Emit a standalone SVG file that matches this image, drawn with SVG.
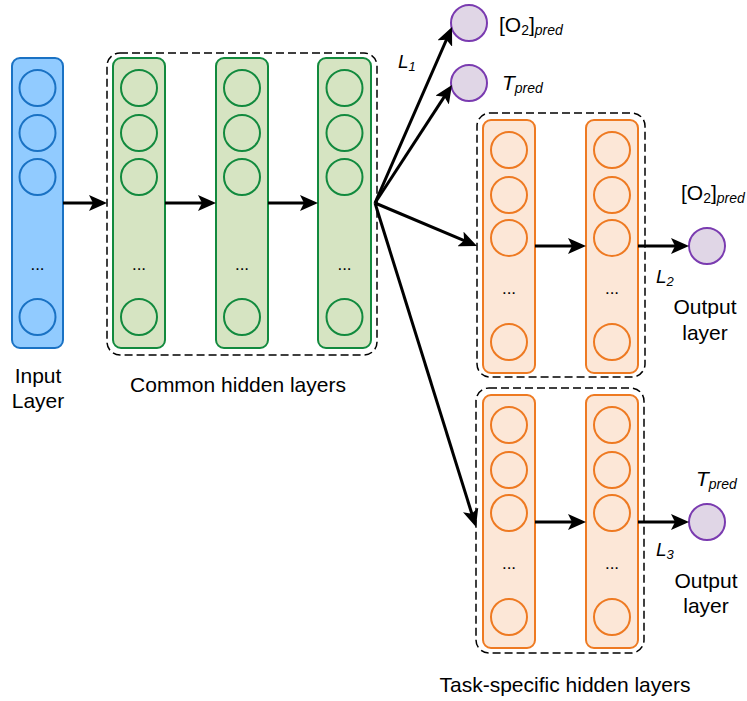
<svg xmlns="http://www.w3.org/2000/svg" width="747" height="701" viewBox="0 0 747 701">
  <style>
    text { font-family: "Liberation Sans", Arial, sans-serif; fill: #000; }
    .lbl { font-size: 21px; }
    .mid { text-anchor: middle; }
    .sub { font-size: 14px; }
    .it { font-style: italic; }
    .loss { font-size: 19px; font-style: italic; }
    .loss-sub { font-size: 13px; }
    .dots { font-size: 17px; text-anchor: middle; }
    .group { fill: none; stroke: #000; stroke-width: 1.5; stroke-dasharray: 8 4; }
    .in-col { fill: #91cbff; stroke: #1a72c4; stroke-width: 2; }
    .in-n { fill: none; stroke: #1a72c4; stroke-width: 2; }
    .cm-col { fill: #d6e4c2; stroke: #128a3e; stroke-width: 2; }
    .cm-n { fill: none; stroke: #128a3e; stroke-width: 2; }
    .ts-col { fill: #fce7d7; stroke: #ee7a22; stroke-width: 2; }
    .ts-n { fill: none; stroke: #ee7a22; stroke-width: 2; }
    .out-n { fill: #e0d6e6; stroke: #7a3bb0; stroke-width: 2; }
    .edge { stroke: #000; stroke-width: 3; fill: none; marker-end: url(#head); }
  </style>
  <defs>
    <marker id="head" markerUnits="userSpaceOnUse" markerWidth="18" markerHeight="16" refX="8" refY="8" orient="auto">
      <path d="M0,0 L18,8 L0,16 L4,8 z" fill="#000"/>
    </marker>
    <g id="col4">
      <circle cx="0" cy="0" r="18"/>
      <circle cx="0" cy="45" r="18"/>
      <circle cx="0" cy="89" r="18"/>
      <circle cx="0" cy="229" r="18"/>
    </g>
    <g id="col4t">
      <circle cx="0" cy="0" r="18"/>
      <circle cx="0" cy="45" r="18"/>
      <circle cx="0" cy="88" r="18"/>
      <circle cx="0" cy="192" r="18"/>
    </g>
  </defs>

  <!-- dashed groupings -->
  <rect class="group" x="107" y="53" width="270" height="302" rx="13"/>
  <rect class="group" x="477" y="113" width="168" height="264" rx="13"/>
  <rect class="group" x="476" y="388" width="168" height="265" rx="13"/>

  <!-- input layer -->
  <g id="input-layer">
    <rect class="in-col" x="12" y="58" width="51" height="290" rx="8"/>
    <use href="#col4" class="in-n" x="37.5" y="88"/>
    <text class="dots" x="37.5" y="270">...</text>
  </g>

  <!-- common hidden layers -->
  <g id="common-1">
    <rect class="cm-col" x="113" y="58" width="52" height="290" rx="8"/>
    <use href="#col4" class="cm-n" x="139" y="88"/>
    <text class="dots" x="139" y="270">...</text>
  </g>
  <g id="common-2">
    <rect class="cm-col" x="216" y="58" width="52" height="290" rx="8"/>
    <use href="#col4" class="cm-n" x="242" y="88"/>
    <text class="dots" x="242" y="270">...</text>
  </g>
  <g id="common-3">
    <rect class="cm-col" x="318" y="58" width="53" height="290" rx="8"/>
    <use href="#col4" class="cm-n" x="344.5" y="88"/>
    <text class="dots" x="344.5" y="270">...</text>
  </g>

  <!-- shared-head outputs -->
  <g id="out-o2-shared">
    <circle class="out-n" cx="469" cy="23" r="18"/>
    <text class="lbl" x="499" y="32">[O<tspan class="sub" dy="3">2</tspan><tspan dy="-3">]</tspan><tspan class="sub it" dy="3">pred</tspan></text>
  </g>
  <g id="out-t-shared">
    <circle class="out-n" cx="469" cy="83" r="18"/>
    <text class="lbl" x="502" y="90"><tspan class="it">T</tspan><tspan class="sub it" dy="3">pred</tspan></text>
  </g>

  <!-- task-specific branch 1 -->
  <g id="task1-a">
    <rect class="ts-col" x="483" y="120" width="52" height="253" rx="8"/>
    <use href="#col4t" class="ts-n" x="509" y="150"/>
    <text class="dots" x="509" y="294">...</text>
  </g>
  <g id="task1-b">
    <rect class="ts-col" x="586" y="120" width="52" height="253" rx="8"/>
    <use href="#col4t" class="ts-n" x="612" y="150"/>
    <text class="dots" x="612" y="294">...</text>
  </g>
  <g id="out-o2">
    <circle class="out-n" cx="707" cy="246" r="18"/>
    <text class="lbl" x="681" y="200">[O<tspan class="sub" dy="3">2</tspan><tspan dy="-3">]</tspan><tspan class="sub it" dy="3">pred</tspan></text>
    <text class="lbl mid" x="705" y="314">Output</text>
    <text class="lbl mid" x="705" y="340">layer</text>
  </g>

  <!-- task-specific branch 2 -->
  <g id="task2-a">
    <rect class="ts-col" x="483" y="395" width="52" height="253" rx="8"/>
    <use href="#col4t" class="ts-n" x="509" y="425"/>
    <text class="dots" x="509" y="569">...</text>
  </g>
  <g id="task2-b">
    <rect class="ts-col" x="586" y="395" width="52" height="253" rx="8"/>
    <use href="#col4t" class="ts-n" x="612" y="425"/>
    <text class="dots" x="612" y="569">...</text>
  </g>
  <g id="out-t">
    <circle class="out-n" cx="707" cy="522" r="18"/>
    <text class="lbl" x="696" y="486"><tspan class="it">T</tspan><tspan class="sub it" dy="3">pred</tspan></text>
    <text class="lbl mid" x="706" y="588">Output</text>
    <text class="lbl mid" x="706" y="613">layer</text>
  </g>

  <!-- connectors -->
  <g id="connectors">
    <line class="edge" x1="63" y1="203" x2="97" y2="203"/>
    <line class="edge" x1="165" y1="203" x2="206" y2="203"/>
    <line class="edge" x1="268" y1="203" x2="308" y2="203"/>
    <line class="edge" x1="375" y1="203" x2="448" y2="36.2"/>
    <line class="edge" x1="375" y1="203" x2="446.5" y2="93.4"/>
    <line class="edge" x1="375" y1="203" x2="467.8" y2="242.1"/>
    <line class="edge" x1="375" y1="203" x2="473" y2="517.5"/>
    <line class="edge" x1="535" y1="246" x2="576" y2="246"/>
    <line class="edge" x1="638" y1="246" x2="679" y2="246"/>
    <line class="edge" x1="535" y1="522" x2="576" y2="522"/>
    <line class="edge" x1="638" y1="522" x2="679" y2="522"/>
  </g>

  <!-- loss labels -->
  <text class="loss" x="398" y="68">L<tspan class="loss-sub" dy="3">1</tspan></text>
  <text class="loss" x="656" y="283">L<tspan class="loss-sub" dy="3">2</tspan></text>
  <text class="loss" x="656" y="556">L<tspan class="loss-sub" dy="3">3</tspan></text>

  <!-- captions -->
  <text class="lbl mid" x="38" y="383">Input</text>
  <text class="lbl mid" x="38" y="408">Layer</text>
  <text class="lbl mid" x="238" y="392">Common hidden layers</text>
  <text class="lbl mid" x="565" y="692">Task-specific hidden layers</text>
</svg>
